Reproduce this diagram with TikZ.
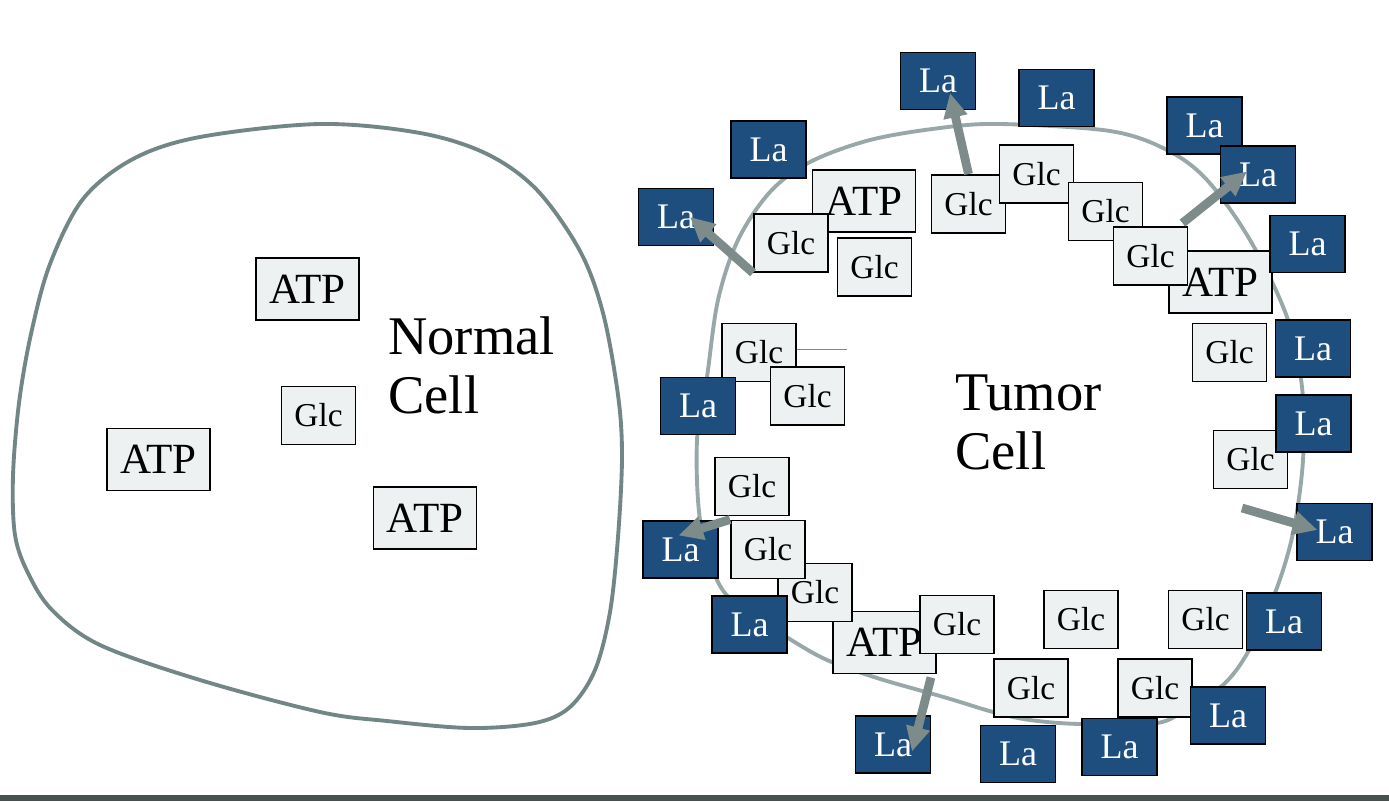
\documentclass[tikz,border=0pt]{standalone}
\usepackage{fontspec}
\setmainfont{Liberation Serif}
\usetikzlibrary{arrows.meta}
\definecolor{laBlue}{HTML}{1E4E7E}
\definecolor{boxGray}{HTML}{EEF1F1}
\definecolor{wallGray}{HTML}{728686}
\definecolor{wallLight}{HTML}{98A8A8}
\definecolor{fluxGray}{HTML}{7E8B8B}
\definecolor{barGray}{HTML}{47514F}

\begin{document}
\begin{tikzpicture}[x=0.02cm, y=-0.02cm,
    glc/.style={draw, line width=1.1pt, fill=boxGray, minimum width=1.48cm, minimum height=1.16cm,
      inner sep=0pt, font=\fontsize{19}{19}\selectfont},
    atp/.style={glc, minimum width=2.06cm, minimum height=1.24cm, font=\fontsize{24.5}{24.5}\selectfont},
    lac/.style={glc, fill=laBlue, text=white, minimum width=1.5cm, minimum height=1.14cm,
      font=\fontsize{20.5}{20.5}\selectfont},
    flux/.style={draw=fluxGray, line width=5pt, -{Triangle[length=14pt, width=13pt]}},
    title/.style={align=left, anchor=north west, inner sep=0pt, font=\fontsize{31}{33.6}\selectfont}]
  \fill[white] (0,0) rectangle (1389,801);
  \useasboundingbox (0,0) rectangle (1389,801);

  % cell walls
  \draw[wallGray, line width=2.2pt] plot[smooth cycle, tension=0.55] coordinates {
    (320,124) (420,133) (487,154) (537,190) (580,251) (603,313) (618,395) (622,456)
    (618,537) (610,612) (595,670) (570,707) (535,723) (470,728) (387,721) (320,712)
    (200,680) (100,645) (52,610) (28,573) (15,535) (13,476) (19,403) (31,334)
    (50,264) (83,199) (133,159) (200,137)};
  \draw[wallLight, line width=2.2pt] plot[smooth cycle, tension=0.55] coordinates {
    (1000,124) (1110,131) (1167,150) (1207,180) (1250,240) (1287,317) (1302,387) (1303,460)
    (1293,533) (1275,593) (1248,652) (1223,685) (1187,708) (1157,723) (1080,724) (1030,720)
    (993,712) (947,698) (877,678) (827,660) (788,638) (740,607) (717,580) (700,520)
    (697,440) (707,377) (718,300) (738,240) (770,192) (810,162) (870,140) (940,128)};

  % normal cell
  \node[atp] (atp1) at (307.5,289) {ATP};
  \node[atp] (atp2) at (158.5,459.5) {ATP};
  \node[atp] (atp3) at (425,518) {ATP};
  \node[glc] (glc0) at (318.5,415.5) {Glc};
  \node[title] (normal) at (388,316) {Normal\\Cell};

  % tumor cell
  \foreach \x/\y/\n in {864/201/atpA, 1220.5/282/atpB, 884.5/642.5/atpC}
    \node[atp] (\n) at (\x,\y) {ATP};
  \foreach \x/\y/\n in {791/243/glcA, 874.5/267/glcB, 968.5/204/glcC, 1036.5/174/glcD,
      1105.5/211.5/glcE, 1150.5/256/glcF, 1229.5/352.5/glcG, 1250.5/459.5/glcH,
      759/352.5/glcI, 807.5/396/glcJ, 752/486.5/glcK, 815/592.5/glcM, 768/549.5/glcL,
      957/624.5/glcN, 1081/619.5/glcO, 1205.5/619.5/glcP, 1031/688/glcQ, 1155/688/glcR}
    \node[glc] (\n) at (\x,\y) {Glc};
  \foreach \x/\y/\n in {938/81/la1, 1056.5/98/la2, 1204.5/125.5/la3, 1258/174.5/la4,
      1307.5/244/la5, 1313/348.5/la6, 1313.5/423.5/la7, 1334.5/532/la8,
      1284/621.5/la9, 1228/715.5/la10, 1119.5/747/la11, 1018/754/la12,
      893/744.5/la13, 749.5/624.5/la14, 680.5/549.5/la15, 698/406/la16,
      676/217/la17, 768.5/149.5/la18}
    \node[lac] (\n) at (\x,\y) {La};
  \node[title] (tumor) at (955,374) {Tumor\\Cell};

  \coordinate (stub) at (847,349);
  \draw[fluxGray, line width=0.5pt] (glcI.east |- stub) -- (stub);

  % lactate leaving the cell
  \coordinate (outH) at (1242,508);
  \draw[flux] (glcC.north) -- ([shift={(12,12)}]la1.center);
  \draw[flux] ([shift={(-6,-3)}]glcF.north east) -- ([shift={(-11,-3)}]la4.center);
  \draw[flux] (outH) -- ([shift={(-17,-2)}]la8.center);
  \draw[flux] ([shift={(-6,3)}]atpC.south east) -- ([shift={(19,7)}]la13.center);
  \draw[flux] (glcL.north west) -- ([shift={(-2,-14)}]la15.center);
  \draw[flux] (glcA.south west) -- ([shift={(14,0)}]la17.center);

  \fill[barGray] (0,795) rectangle (1389,801);
\end{tikzpicture}
\end{document}
